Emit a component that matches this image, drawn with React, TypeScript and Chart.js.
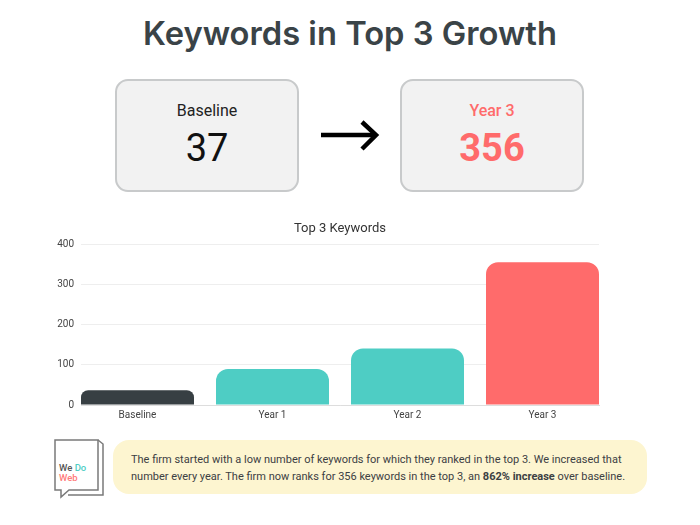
import React, { useEffect, useRef } from "react";
import { Chart, registerables } from "chart.js";

Chart.register(...registerables);

const categories = ["Baseline", "Year 1", "Year 2", "Year 3"];
const keywordCounts = [37, 90, 141, 356];
const barColors = ["#373f43", "#4ecdc4", "#4ecdc4", "#ff6b6b"];
const yTicks = [0, 100, 200, 300, 400];
const baselineValue = 37;
const year3Value = 356;
const barFraction = 0.837;

const font = "Roboto, 'Noto Sans', sans-serif";

function BarChart() {
  const ref = useRef<HTMLCanvasElement | null>(null);
  useEffect(() => {
    if (!ref.current) return;
    const chart = new Chart(ref.current, {
      type: "bar",
      data: {
        datasets: [
          {
            data: categories.map((_, i) => ({ x: i, y: keywordCounts[i] })),
            backgroundColor: barColors,
            borderWidth: 0,
            borderRadius: { topLeft: 12, topRight: 12, bottomLeft: 0, bottomRight: 0 },
            borderSkipped: "bottom",
            barPercentage: barFraction,
            categoryPercentage: 1,
          } as any,
        ],
      },
      options: {
        animation: false,
        responsive: false,
        layout: { padding: { left: 51, right: 101, top: 0, bottom: 5 } },
        plugins: {
          legend: { display: false },
          tooltip: { enabled: false },
          title: {
            display: true,
            fullSize: false,
            text: "Top 3 Keywords",
            color: "#333333",
            font: { family: font, size: 13, weight: "normal" as any },
            padding: { top: 11, bottom: 8 },
          },
        },
        scales: {
          x: {
            type: "linear",
            offset: false,
            min: -barFraction / 2,
            max: categories.length - 1 + barFraction / 2,
            grid: { display: false, drawTicks: false },
            border: { display: true, color: "#dddddd" },
            afterBuildTicks: (scale: any) => {
              scale.ticks = categories.map((_, i) => ({ value: i }));
            },
            afterFit: (scale: any) => {
              scale.height = 20;
            },
            ticks: {
              autoSkip: false,
              maxRotation: 0,
              padding: 4,
              color: "#444444",
              font: { family: font, size: 10 },
              callback: (v: any) => categories[Math.round(Number(v))] ?? "",
            },
          },
          y: {
            min: yTicks[0],
            max: yTicks[yTicks.length - 1],
            grid: { color: "#eeeeee", drawTicks: false },
            border: { display: false },
            afterBuildTicks: (scale: any) => {
              scale.ticks = yTicks.map((v) => ({ value: v }));
            },
            afterFit: (scale: any) => {
              scale.width = 30;
            },
            ticks: {
              padding: 7,
              color: "#444444",
              font: { family: font, size: 10 },
            },
          },
        },
      } as any,
    });
    return () => chart.destroy();
  }, []);
  return (
    <canvas
      ref={ref}
      width={700}
      height={220}
      style={{ position: "absolute", left: 0, top: 210, width: 700, height: 220 }}
    />
  );
}

export default function App() {
  const box: React.CSSProperties = {
    position: "absolute",
    top: 79,
    width: 184,
    height: 113,
    boxSizing: "border-box",
    border: "2px solid #c8cacb",
    borderRadius: 13,
    background: "#f2f2f2",
    fontFamily: font,
  };
  const label: React.CSSProperties = {
    position: "absolute",
    left: 0,
    right: 0,
    top: 20,
    textAlign: "center",
    fontSize: 16,
    lineHeight: "20px",
  };
  const value: React.CSSProperties = {
    position: "absolute",
    left: 0,
    right: 0,
    top: 45,
    textAlign: "center",
    fontSize: 38,
    lineHeight: "44px",
  };
  return (
    <div
      style={{
        position: "absolute",
        left: 0,
        top: 0,
        width: 700,
        height: 525,
        background: "#ffffff",
        overflow: "hidden",
      }}
    >
      <div
        style={{
          position: "absolute",
          left: 0,
          width: 700,
          top: 13,
          textAlign: "center",
          fontFamily: "Inter, sans-serif",
          fontWeight: 600,
          fontSize: 32.7,
          lineHeight: "40px",
          color: "#3a4347",
        }}
      >
        Keywords in Top 3 Growth
      </div>

      <div style={{ ...box, left: 115 }}>
        <div style={{ ...label, color: "#222222" }}>Baseline</div>
        <div style={{ ...value, color: "#111111" }}>{baselineValue}</div>
      </div>

      <svg
        width={70}
        height={40}
        style={{ position: "absolute", left: 315, top: 115 }}
      >
        <line x1={6} y1={20} x2={60} y2={20} stroke="#000" strokeWidth={4.5} />
        <polyline
          points="47,7 61,20 47,34"
          fill="none"
          stroke="#000"
          strokeWidth={4.5}
        />
      </svg>

      <div style={{ ...box, left: 400 }}>
        <div style={{ ...label, color: "#ff6b6b", fontWeight: 500 }}>Year 3</div>
        <div style={{ ...value, color: "#ff6b6b", fontWeight: 700 }}>{year3Value}</div>
      </div>

      <BarChart />

      <svg
        width={60}
        height={70}
        style={{ position: "absolute", left: 50, top: 435 }}
      >
        <path
          d="M5,5 H48 V55 H19 L11,62 V55 H5 Z"
          fill="#ffffff"
          stroke="#7a7a7a"
          strokeWidth={1.5}
        />
        <path
          d="M48,5 L53,9 V60 H18"
          fill="none"
          stroke="#7a7a7a"
          strokeWidth={1.5}
        />
        <text x={9} y={36} fontFamily={font} fontSize={9.5} fontWeight={500}>
          <tspan fill="#555555">We </tspan>
          <tspan fill="#4ecdc4">Do</tspan>
        </text>
        <text x={9} y={46} fontFamily={font} fontSize={9.5} fontWeight={500} fill="#ff7b7b">
          Web
        </text>
      </svg>

      <div
        style={{
          position: "absolute",
          left: 113,
          top: 440,
          width: 534,
          height: 54,
          boxSizing: "border-box",
          borderRadius: 16,
          background: "#fdf5d0",
          padding: "11px 0 0 18px",
          fontFamily: font,
          fontSize: 11,
          lineHeight: "17px",
          color: "#3c4043",
          whiteSpace: "nowrap",
        }}
      >
        The firm started with a low number of keywords for which they ranked in the top 3. We increased that
        <br />
        number every year. The firm now ranks for 356 keywords in the top 3, an <b>862% increase</b> over baseline.
      </div>
    </div>
  );
}
